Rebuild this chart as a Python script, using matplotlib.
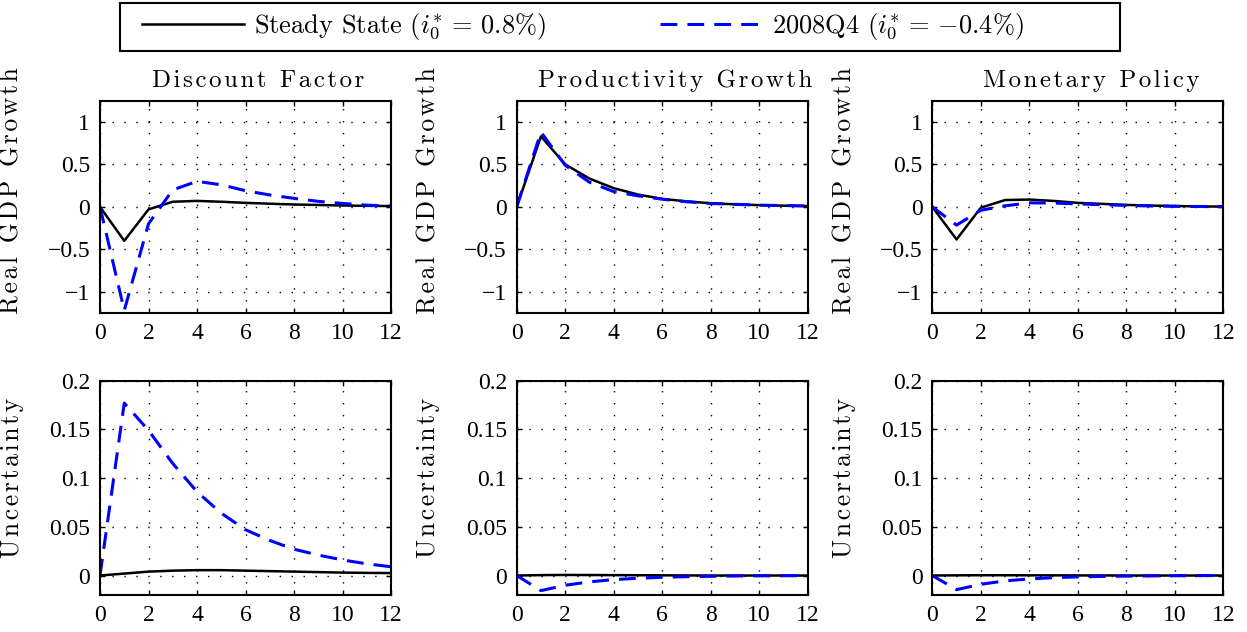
import matplotlib
matplotlib.use("Agg")
import matplotlib.pyplot as plt
from matplotlib.patches import Rectangle
import numpy as np

# ---------------- data ----------------
quarters = list(range(13))
x_ticks = [0, 2, 4, 6, 8, 10, 12]
x_tick_labels = ["0", "2", "4", "6", "8", "10", "12"]

gdp_ticks = [-1, -0.5, 0, 0.5, 1]
gdp_tick_labels = ["\u22121", "\u22120.5", "0", "0.5", "1"]
unc_ticks = [0, 0.05, 0.1, 0.15, 0.2]
unc_tick_labels = ["0", "0.05", "0.1", "0.15", "0.2"]

shock_titles = ["Discount Factor", "Productivity Growth", "Monetary Policy"]
row_labels = ["Real GDP Growth", "Uncertainty"]
series_labels = [r"Steady State ($i_0^{*}\,=\,0.8\%$)", r"2008Q4 ($i_0^{*}\,=\,{-}0.4\%$)"]

# Real GDP growth responses
gdp_ss_discount = [0, -0.40, -0.03, 0.06, 0.07, 0.06, 0.047, 0.037, 0.028, 0.022, 0.016, 0.012, 0.009]
gdp_08_discount = [0, -1.22, -0.20, 0.20, 0.30, 0.26, 0.19, 0.14, 0.10, 0.065, 0.04, 0.02, 0.01]
gdp_ss_prod = [0, 0.83, 0.50, 0.333, 0.22, 0.145, 0.094, 0.065, 0.042, 0.03, 0.02, 0.014, 0.01]
gdp_08_prod = [0, 0.88, 0.49, 0.29, 0.18, 0.13, 0.09, 0.06, 0.04, 0.03, 0.02, 0.015, 0.01]
gdp_ss_mp = [0, -0.384, -0.01, 0.08, 0.086, 0.07, 0.047, 0.035, 0.023, 0.015, 0.01, 0.005, 0.003]
gdp_08_mp = [0, -0.215, -0.04, 0.012, 0.047, 0.045, 0.035, 0.025, 0.017, 0.01, 0.006, 0.004, 0.002]

# Uncertainty responses
unc_ss_discount = [0, 0.002, 0.004, 0.005, 0.0055, 0.0055, 0.005, 0.0045, 0.004, 0.0035, 0.003, 0.0027, 0.0025]
unc_08_discount = [0, 0.177, 0.149, 0.115, 0.086, 0.064, 0.047, 0.036, 0.027, 0.021, 0.016, 0.012, 0.009]
unc_ss_prod = [0, 0.0004, 0.0006, 0.0005, 0.0004, 0.0003, 0.0002, 0.0001, 0, 0, 0, 0, 0]
unc_08_prod = [0, -0.0155, -0.010, -0.0065, -0.0042, -0.0028, -0.0018, -0.0012, -0.0008, -0.0005, -0.0003, -0.0002, -0.0001]
unc_ss_mp = [0, 0.0002, 0.0003, 0.0003, 0.0002, 0.0002, 0.0001, 0.0001, 0, 0, 0, 0, 0]
unc_08_mp = [0, -0.0145, -0.009, -0.0055, -0.0035, -0.0022, -0.0014, -0.0009, -0.0006, -0.0004, -0.0002, -0.0001, 0]

gdp_ss = [gdp_ss_discount, gdp_ss_prod, gdp_ss_mp]
gdp_08 = [gdp_08_discount, gdp_08_prod, gdp_08_mp]
unc_ss = [unc_ss_discount, unc_ss_prod, unc_ss_mp]
unc_08 = [unc_08_discount, unc_08_prod, unc_08_mp]

# ---------------- style ----------------
plt.rcParams["font.family"] = ["Liberation Serif", "DejaVu Serif"]
plt.rcParams["mathtext.fontset"] = "cm"
plt.rcParams["axes.unicode_minus"] = True
CM = ["cmr10", "DejaVu Serif"]
HS = "\u200a"  # hair space for letter spacing


def spaced(s, sep=HS):
    return sep.join(list(s))


W, H = 1247, 632
fig = plt.figure(figsize=(W / 100, H / 100), dpi=100)

col_lefts = [100, 516.7, 932.3]
ax_w = 291
rows = [(100.7, 313.0), (380.7, 595.0)]

for r, (top, bot) in enumerate(rows):
    for c in range(3):
        ax = fig.add_axes([col_lefts[c] / W, 1 - bot / H, ax_w / W, (bot - top) / H])
        if r == 0:
            ss, s08 = gdp_ss[c], gdp_08[c]
            ax.set_ylim(-1.25, 1.25)
            ax.set_yticks(gdp_ticks)
            ax.set_yticklabels(gdp_tick_labels)
        else:
            ss, s08 = unc_ss[c], unc_08[c]
            ax.set_ylim(-0.02, 0.2)
            ax.set_yticks(unc_ticks)
            ax.set_yticklabels(unc_tick_labels)
        l1, = ax.plot(quarters, ss, color="black", lw=1.8)
        l2, = ax.plot(quarters, s08, color="#0000ff", lw=2.2)
        l2.set_dashes((5.5, 3.3))
        ax.set_xlim(0, 12)
        ax.set_xticks(x_ticks)
        ax.set_xticklabels(x_tick_labels)
        ax.grid(True, color="black", lw=1.0, linestyle=(0, (1, 7.6)))
        ax.tick_params(direction="in", top=True, right=True, length=3.5, width=1.0,
                       labelsize=17, pad=7)
        for sp in ax.spines.values():
            sp.set_linewidth(1.5)
        ax.set_ylabel(spaced(row_labels[r]), fontfamily=CM, fontsize=18.5)
        if r == 0:
            ax.yaxis.set_label_coords(-0.262, 0.575)
            ax.set_title(spaced(shock_titles[c]), fontfamily=CM, fontsize=18,
                         x=0.545, pad=10)
        else:
            ax.yaxis.set_label_coords(-0.262, 0.546)

# legend box (frame drawn separately to match the reference extent)
fig.patches.append(Rectangle((120 / W, 1 - 51 / H), 1000 / W, 48 / H,
                             transform=fig.transFigure, fill=True,
                             facecolor="white", edgecolor="black", lw=1.5, zorder=1))
leg = fig.legend([l1, l2], series_labels, loc="upper left",
                 bbox_to_anchor=(134 / W, 1 - 4 / H), ncol=2,
                 prop={"family": "cmr10", "size": 19},
                 handlelength=3.85, handletextpad=0.4, columnspacing=4.3,
                 borderpad=0.3, frameon=False, borderaxespad=0)
leg.set_zorder(2)

fig.savefig("out.png", dpi=100)
